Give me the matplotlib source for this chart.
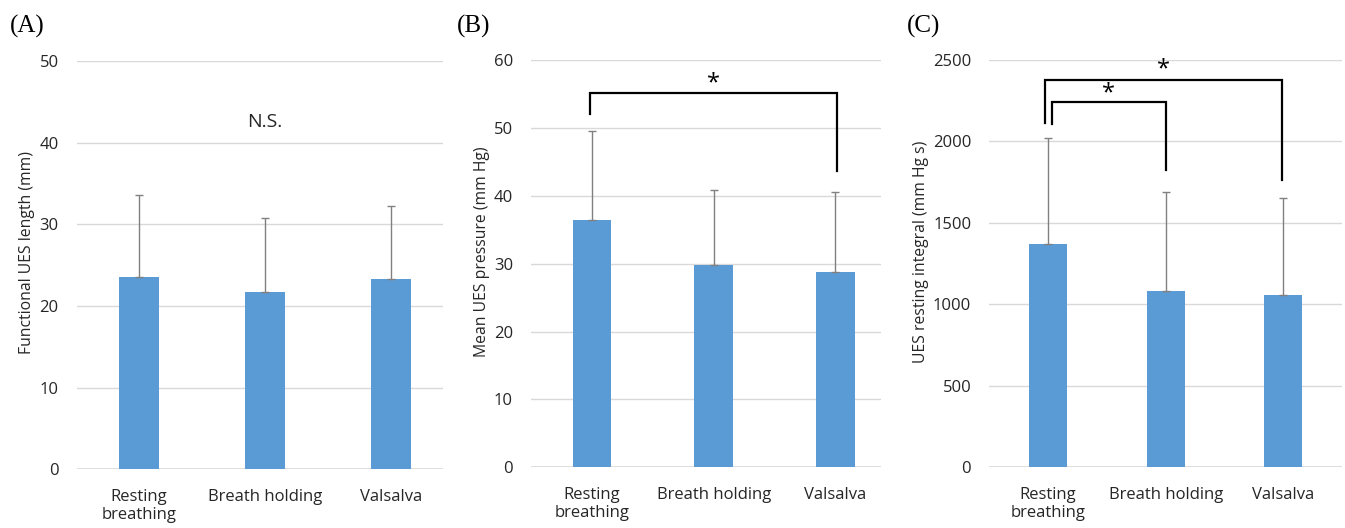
import matplotlib
matplotlib.use('Agg')
import matplotlib.pyplot as plt

# conditions on the x axis
conditions = ['Resting\nbreathing', 'Breath holding', 'Valsalva']

# panel values (mean and upper error bar)
length_mean = [23.5, 21.7, 23.3]
length_sd = [10.1, 9.1, 9.0]
pressure_mean = [36.5, 29.8, 28.8]
pressure_sd = [13.0, 11.1, 11.7]
integral_mean = [1370, 1082, 1059]
integral_sd = [652, 605, 591]

BAR = '#5B9BD5'
GRID = '#D9D9D9'
ERR = '#808080'
TXT = '#262626'

plt.rcParams['font.family'] = ['Open Sans', 'DejaVu Sans']

fig = plt.figure(figsize=(13.45, 5.28), dpi=100)


def bar_panel(rect, means, sds, ymax, ystep, ylabel, xlim):
    ax = fig.add_axes(rect)
    x = list(range(len(means)))
    ax.bar(x, means, width=0.32, color=BAR, zorder=2)
    ax.errorbar(x, means, yerr=[[0] * len(sds), sds], fmt='none', ecolor=ERR,
                elinewidth=1, capsize=3, capthick=1, zorder=3)
    ax.set_ylim(0, ymax)
    ax.set_xlim(*xlim)
    ax.set_yticks(range(0, ymax + 1, ystep))
    ax.yaxis.grid(True, color=GRID, linewidth=1, zorder=0)
    ax.set_axisbelow(True)
    for s in ax.spines.values():
        s.set_visible(False)
    ax.axhline(0, color=GRID, linewidth=1.2, zorder=1)
    ax.set_xticks(x)
    ax.set_xticklabels(conditions, fontsize=12, color=TXT, linespacing=1.15)
    ax.tick_params(axis='both', length=0, labelsize=12, colors=TXT)
    ax.tick_params(axis='x', pad=14)
    ax.tick_params(axis='y', pad=13)
    ax.set_ylabel(ylabel, fontsize=11.3, color=TXT, labelpad=3)
    ax.yaxis.label.set_y(0.53)
    return ax


def bracket(ax, x1, x2, y, y1, y2, star_y, lw=1.6):
    ax.plot([x1, x1, x2, x2], [y1, y, y, y2], color='black', linewidth=lw,
            solid_joinstyle='miter', zorder=4, clip_on=False)
    ax.text((x1 + x2) / 2, star_y, '*', ha='center', va='center', fontsize=17,
            color='black', zorder=5)


axA = bar_panel([0.057, 0.111, 0.2725, 0.7735], length_mean, length_sd, 50, 10,
                'Functional UES length (mm)', (-0.495, 2.417))
axA.text(1, 42.5, 'N.S.', ha='center', va='center', fontsize=14, color=TXT)

axB = bar_panel([0.3948, 0.115, 0.2602, 0.7714], pressure_mean, pressure_sd, 60, 10,
                'Mean UES pressure (mm Hg)', (-0.501, 2.374))
bracket(axB, -0.015, 2.01, 55.1, 52.0, 43.7, 56.6)

axC = bar_panel([0.7355, 0.115, 0.262, 0.7714], integral_mean, integral_sd, 2500, 500,
                'UES resting integral (mm Hg s)', (-0.502, 2.497))
bracket(axC, -0.03, 1.99, 2376, 2114, 1762, 2440)
bracket(axC, 0.03, 1.0, 2243, 2110, 1824, 2295)

for lab, xpos in [('(A)', 0.007), ('(B)', 0.340), ('(C)', 0.674)]:
    fig.text(xpos, 0.950, lab, fontsize=18, family='Liberation Serif',
             color='black', va='center', ha='left')

fig.savefig('out.png', dpi=100)
